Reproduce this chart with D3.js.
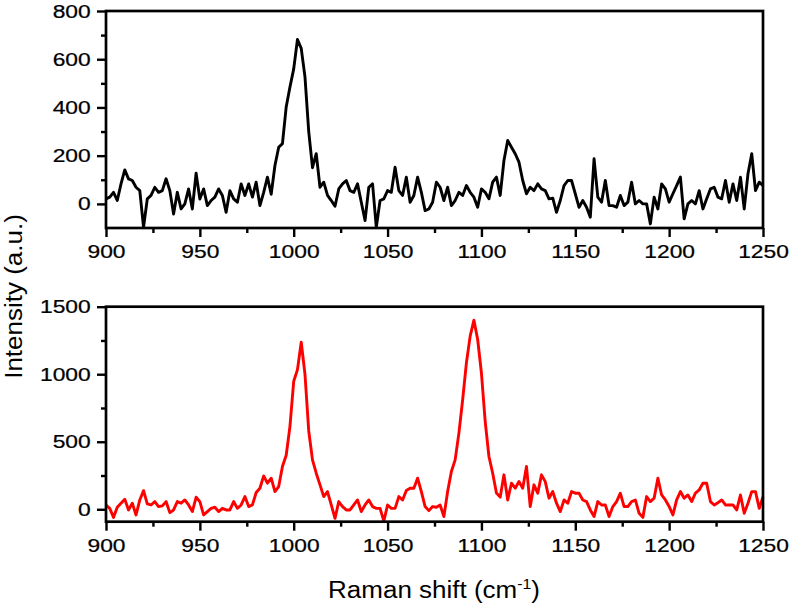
<!DOCTYPE html>
<html><head><meta charset="utf-8">
<script src="https://cdn.jsdelivr.net/npm/d3@7"></script>
<style>body{margin:0;background:#fff}svg{display:block}</style>
</head><body>
<svg id="chart" width="790" height="606"></svg>
<script>
// Raman shift sampling grid (cm-1)
const wavenumbers = d3.range(900, 1251, 2);

// Top spectrum (black)
const topIntensity = [
  21, 28, 48, 14, 83, 141, 104, 97, 69, 55,
  -97, 21, 35, 69, 48, 55, 104, 55, -42, 48,
  -21, 0, 62, -21, 127, 20, 62, -7, 14, 28,
  62, 35, -35, 55, 21, 7, 83, 35, 83, 28,
  90, -7, 48, 111, 40, 159, 235, 250, 402, 485,
  560, 682, 645, 527, 300, 150, 208, 69, 90, 35,
  14, -10, 62, 83, 97, 55, 48, 83, 7, -69,
  69, 83, -97, 14, 21, 55, 48, 152, 55, 35,
  111, 7, 35, 111, 48, -28, -21, 7, 90, 69,
  14, 69, -7, 14, 48, 35, 76, 48, 28, -14,
  62, 48, 21, 90, 111, 35, 180, 263, 235, 208,
  173, 97, 42, 69, 55, 83, 62, 55, 21, 24,
  -35, 14, 76, 97, 97, 42, -14, 14, -14, -55,
  187, 28, 7, 97, -7, -7, -14, 35, -7, 7,
  90, 0, 14, 0, 0, -83, 28, -21, 83, 62,
  7, 42, 76, 111, -62, 0, 14, 0, 55, -21,
  21, 62, 69, 28, 21, 97, 7, 83, 14, 111,
  -21, 125, 208, 55, 90, 76
];

// Bottom spectrum (red)
const bottomIntensity = [
  32, 7, -60, 15, 45, 74, -5, 45, -42, 69,
  138, 40, 32, 57, 20, 25, 57, -25, -5, 57,
  45, 69, 32, -17, 89, 57, -42, -17, 7, 15,
  -17, 7, -5, -5, 57, 7, 32, 94, 20, 32,
  124, 156, 247, 193, 230, 131, 168, 317, 400, 614,
  948, 1034, 1237, 1000, 580, 366, 267, 181, 94, 131,
  32, -67, 57, 20, -5, -5, 32, 69, -17, 32,
  69, 20, 7, 7, -88, 32, 7, 7, 94, 69,
  139, 156, 156, 230, 131, 20, -10, 20, 15, 32,
  -54, 131, 280, 366, 564, 811, 1084, 1282, 1400, 1257,
  1009, 651, 391, 267, 120, 90, 255, 69, 193, 156,
  205, 156, 317, 20, 181, 119, 255, 205, 82, 131,
  45, -17, 69, 45, 131, 119, 119, 69, 57, -5,
  -54, 57, 32, 32, -54, 20, 57, 119, 20, 20,
  57, 69, -30, -60, 94, 57, 82, 230, 106, 69,
  20, -42, 69, 131, 82, 106, 57, 119, 143, 193,
  193, 57, 32, 49, 69, 32, 32, 32, -5, 106,
  -30, 45, 131, 131, 7, 94
];

const xTicks = [900, 950, 1000, 1050, 1100, 1150, 1200, 1250];
const xMinorTicks = [925, 975, 1025, 1075, 1125, 1175, 1225];
const topYTicks = [0, 200, 400, 600, 800];
const topYMinorTicks = [100, 300, 500, 700];
const bottomYTicks = [0, 500, 1000, 1500];
const bottomYMinorTicks = [250, 750, 1250];

const svg = d3.select('#chart');
const FONT = '"Liberation Sans", Arial, Helvetica, sans-serif';
const left = 106, right = 763;
const x = d3.scaleLinear().domain([900, 1250]).range([left, right]);

function panel(values, color, yDomain, yRange, yTicks, yMinor) {
  const y = d3.scaleLinear().domain(yDomain).range(yRange);
  const g = svg.append('g');
  const bottom = yRange[0], top = yRange[1];

  // x axis
  g.append('g').attr('transform', `translate(0,${bottom})`)
    .call(d3.axisBottom(x).tickValues(xTicks).tickSize(9).tickPadding(7.6).tickFormat(d3.format('d')));
  g.append('g').attr('transform', `translate(0,${bottom})`)
    .call(d3.axisBottom(x).tickValues(xMinorTicks).tickSize(5).tickFormat(''));
  // y axis
  g.append('g').attr('transform', `translate(${left},0)`)
    .call(d3.axisLeft(y).tickValues(yTicks).tickSize(9).tickPadding(3.8).tickFormat(d3.format('d')));
  g.append('g').attr('transform', `translate(${left},0)`)
    .call(d3.axisLeft(y).tickValues(yMinor).tickSize(5).tickFormat(''));

  g.selectAll('.domain').remove();
  g.selectAll('.tick line').attr('stroke', '#000').attr('stroke-width', 2.4);
  g.selectAll('.tick text')
    .attr('fill', '#000')
    .style('font-family', FONT)
    .style('font-size', '19px')
    .attr('stroke', '#000').attr('stroke-width', 0.25)
    .attr('transform', 'scale(1.2,1)');

  // data line
  const line = d3.line()
    .x((d, i) => x(wavenumbers[i]))
    .y(d => y(d));
  g.append('path')
    .datum(values)
    .attr('d', line)
    .attr('fill', 'none')
    .attr('stroke', color)
    .attr('stroke-width', 2.9)
    .attr('stroke-linejoin', 'round');

  // frame
  g.append('rect')
    .attr('x', left).attr('y', top)
    .attr('width', right - left).attr('height', bottom - top)
    .attr('fill', 'none').attr('stroke', '#000').attr('stroke-width', 2.7);
}

panel(topIntensity, '#000', [-100, 800], [228, 11], topYTicks, topYMinorTicks);
panel(bottomIntensity, '#ff0000', [-92, 1500], [521.7, 306.7], bottomYTicks, bottomYMinorTicks);

// axis titles
const xt = svg.append('g').attr('transform', 'translate(434,598) scale(1.13,1)')
  .append('text')
  .attr('text-anchor', 'middle')
  .style('font-family', FONT).style('font-size', '23px').attr('fill', '#000');
xt.append('tspan').text('Raman shift (cm');
xt.append('tspan').attr('dy', -9).style('font-size', '14px').text('-1');
xt.append('tspan').attr('dy', 9).text(')');

svg.append('g').attr('transform', 'translate(21.7,296.5) rotate(-90) scale(1.13,1)')
  .append('text')
  .attr('text-anchor', 'middle')
  .style('font-family', FONT).style('font-size', '23px').attr('fill', '#000')
  .text('Intensity (a.u.)');
</script>
</body></html>
